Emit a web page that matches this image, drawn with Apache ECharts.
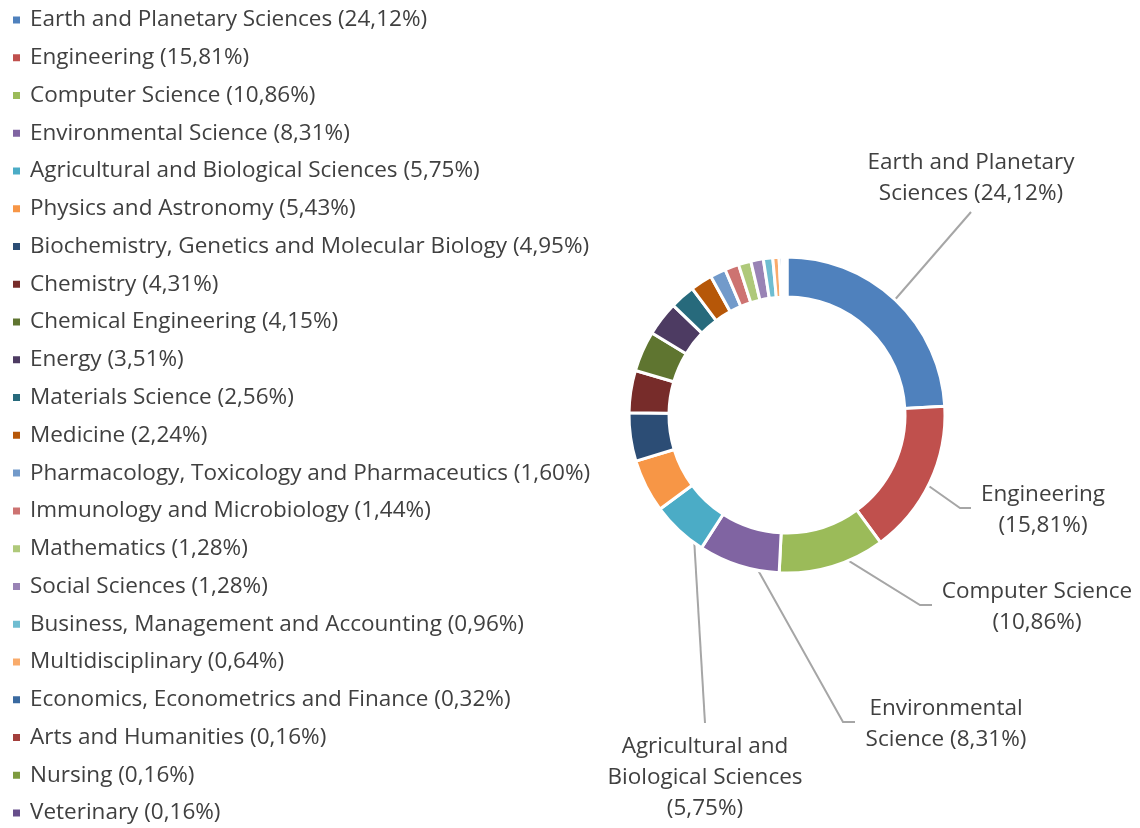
<!DOCTYPE html>
<html>
<head>
<meta charset="utf-8">
<script src="https://cdn.jsdelivr.net/npm/echarts@6/dist/echarts.min.js"></script>
<style>
html,body{margin:0;padding:0;background:#fff;}
#chart{width:1140px;height:828px;}
</style>
</head>
<body>
<div id="chart"></div>
<script>
var categories = [
  'Earth and Planetary Sciences', 'Engineering', 'Computer Science', 'Environmental Science',
  'Agricultural and Biological Sciences', 'Physics and Astronomy',
  'Biochemistry, Genetics and Molecular Biology', 'Chemistry', 'Chemical Engineering',
  'Energy', 'Materials Science', 'Medicine', 'Pharmacology, Toxicology and Pharmaceutics',
  'Immunology and Microbiology', 'Mathematics', 'Social Sciences',
  'Business, Management and Accounting', 'Multidisciplinary',
  'Economics, Econometrics and Finance', 'Arts and Humanities', 'Nursing', 'Veterinary'
];
var shares = [24.12, 15.81, 10.86, 8.31, 5.75, 5.43, 4.95, 4.31, 4.15, 3.51, 2.56, 2.24,
  1.60, 1.44, 1.28, 1.28, 0.96, 0.64, 0.32, 0.16, 0.16, 0.16];
var sliceLabels = [
  'Earth and Planetary\nSciences (24,12%)',
  'Engineering\n(15,81%)',
  'Computer Science\n(10,86%)',
  'Environmental\nScience (8,31%)',
  'Agricultural and\nBiological Sciences\n(5,75%)'
];
var colors = ['#4F81BD', '#C0504D', '#9BBB59', '#8064A2', '#4BACC6', '#F79646',
  '#2C4D75', '#772C2A', '#5F7530', '#4D3B62', '#276A7C', '#B65708',
  '#729ACA', '#CD7371', '#AFC97A', '#9983B5', '#6FBDD1', '#F9AB6B',
  '#3A6AA0', '#A33F3C', '#7E9B3F', '#674E8B'];

// layout (label placement, not data)
var CX = 787, CY = 415, R_IN = 118, R_OUT = 158, R_MID = 138;
var FS = 22.5;
var labelPlace = [
  {x: 971, y: 178, line: [[971, 212]]},
  {x: 1043, y: 510, line: [[960, 508], [971, 508]]},
  {x: 1037, y: 607, line: [[920, 605], [932, 605]]},
  {x: 946, y: 724, line: [[843, 722], [855, 722]]},
  {x: 705, y: 778, line: [[705, 723]]}
];

function fmt(v) { return v.toFixed(2).replace('.', ',') + '%'; }

var data = categories.map(function (n, i) {
  return {
    name: n,
    value: shares[i],
    label: {show: i < sliceLabels.length},
    labelLine: {show: i < sliceLabels.length}
  };
});

var chart = echarts.init(document.getElementById('chart'));
chart.setOption({
  animation: false,
  color: colors,
  legend: {
    orient: 'vertical',
    left: 11,
    top: 8,
    padding: 0,
    itemWidth: 9,
    itemHeight: 9,
    itemGap: 13.76,
    icon: 'rect',
    selectedMode: false,
    data: categories,
    formatter: function (name) {
      return name + ' (' + fmt(shares[categories.indexOf(name)]) + ')';
    },
    textStyle: {
      fontFamily: 'Open Sans',
      fontSize: FS,
      color: '#404040',
      lineHeight: 24,
      padding: [0, 0, 0, 4]
    }
  },
  series: [{
    type: 'pie',
    center: [CX, CY],
    radius: [R_IN, R_OUT],
    startAngle: 90,
    clockwise: true,
    avoidLabelOverlap: false,
    itemStyle: {borderColor: '#fff', borderWidth: 3},
    label: {
      position: 'outside',
      formatter: function (p) { return sliceLabels[p.dataIndex] || ''; },
      fontFamily: 'Open Sans',
      fontSize: FS,
      lineHeight: 31,
      color: '#404040',
      align: 'center'
    },
    labelLine: {
      show: true,
      length: 10,
      length2: 10,
      lineStyle: {color: '#A6A6A6', width: 2}
    },
    labelLayout: function (p) {
      var lp = labelPlace[p.dataIndex];
      if (!lp) return {};
      var pts = p.labelLinePoints;
      var s = pts ? pts[0] : [CX, CY];
      var dx = s[0] - CX, dy = s[1] - CY;
      var d = Math.sqrt(dx * dx + dy * dy) || 1;
      var start = [CX + dx / d * R_MID, CY + dy / d * R_MID];
      var line = [start].concat(lp.line);
      while (line.length < 3) line.push(line[line.length - 1]);
      return {
        x: lp.x,
        y: lp.y,
        align: 'center',
        verticalAlign: 'middle',
        labelLinePoints: line
      };
    },
    data: data
  }]
});
</script>
</body>
</html>
